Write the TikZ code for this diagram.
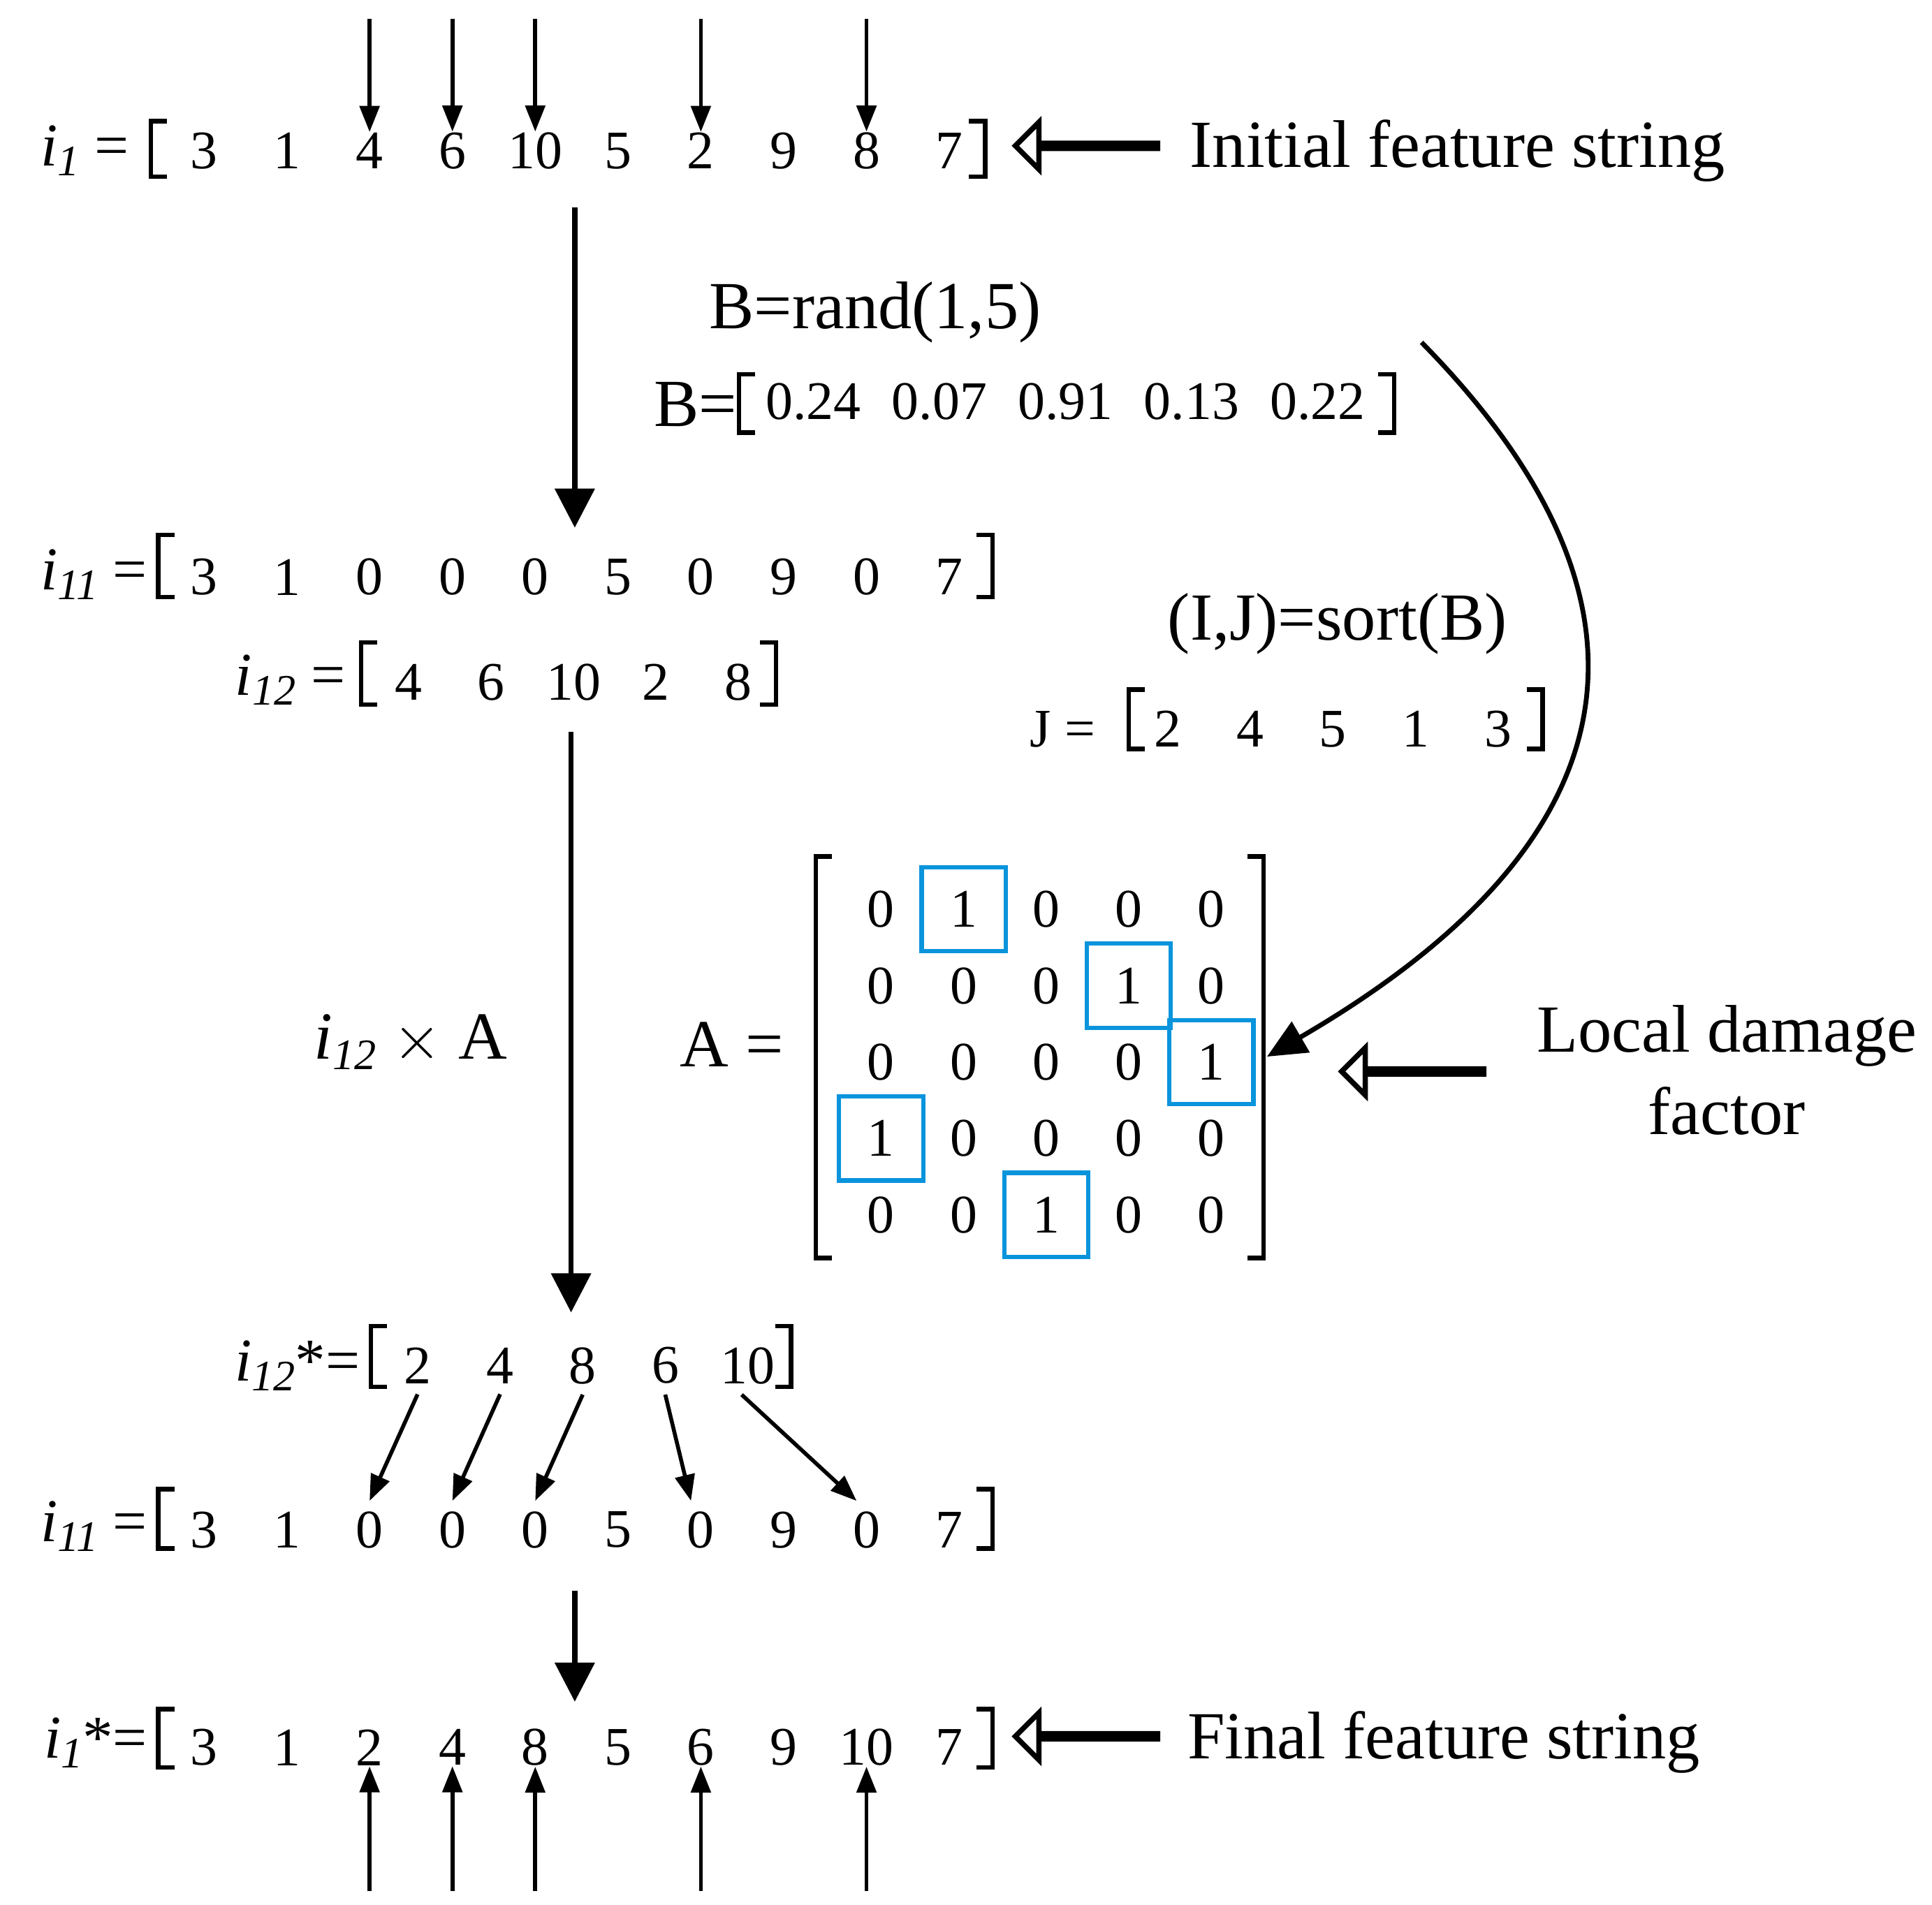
\documentclass[tikz,border=0pt]{standalone}
\usepackage{fontspec}
\setmainfont{Liberation Serif}
\usetikzlibrary{arrows.meta,shapes.arrows,calc}
\newcommand{\ivar}[1]{\textit{i}\raisebox{-0.35ex}{\fontsize{10}{12}\selectfont\textit{#1}}}
\begin{document}
\begin{tikzpicture}[x=0.01cm,y=-0.01cm,
  num/.style={font=\fontsize{12.5}{14}\selectfont,inner sep=0},
  lab/.style={font=\fontsize{14}{16}\selectfont,inner sep=0},
  big/.style={font=\fontsize{15.5}{19}\selectfont,inner sep=0,align=center},
  thin arr/.style={-{Triangle[length=6pt,width=4.5pt]},line width=0.9pt},
  fat arr/.style={-{Triangle[length=9pt,width=9pt]},line width=1.2pt},
  hollow/.style={draw,line width=1.2pt,single arrow,shape border rotate=180,minimum height=1.15cm,minimum width=0.36cm,single arrow head extend=0.17cm,single arrow tip angle=90,inner sep=0},
  br/.style={line width=1pt},
  bb/.style={draw=cyan!80!blue,line width=1pt,minimum size=0.68cm,inner sep=0}]
\useasboundingbox (0,0) rectangle (1563,1541);
\newcommand{\brk}[4]{% x1 x2 ytop ybot
  \draw[br] (#1+13,#3)--(#1,#3)--(#1,#4)--(#1+13,#4);
  \draw[br] (#2-13,#3)--(#2,#3)--(#2,#4)--(#2-13,#4);}
% row 1
\node[lab,anchor=east] (l1) at (105,122) {\ivar{1} =};
\brk{122}{797}{98}{143}
\foreach \v [count=\i] in {3,1,4,6,10,5,2,9,8,7}
  \node[num] (a\i) at (98+67*\i,122) {\v};
\foreach \i in {3,4,5,7,9}{
  \coordinate (t\i) at ($(a\i)+(0,-107)$);
  \draw[thin arr] (t\i) -- (a\i.north);}
\node[hollow] (h1) at (880,118) {};
\node[big,anchor=west] (t1) at (962,122) {Initial feature string};
% B
\coordinate (s1) at (465,168); \coordinate (e1) at (465,427);
\draw[fat arr] (s1)--(e1);
\node[big] (brand) at (708,253) {B=rand(1,5)};
\node[big,anchor=east] (beq) at (597,327) {B=};
\brk{598}{1128}{303}{350}
\foreach \v [count=\i] in {0.24,0.07,0.91,0.13,0.22}
  \node[num] (b\i) at (556+102*\i,325) {\v};
% i11
\node[lab,anchor=east] (l2) at (120,465) {\ivar{11} =};
\brk{128}{803}{433}{483}
\foreach \v [count=\i] in {3,1,0,0,0,5,0,9,0,7}
  \node[num] (c\i) at (98+67*\i,467) {\v};
% i12
\node[lab,anchor=east] (l3) at (280,550) {\ivar{12} =};
\brk{292}{628}{520}{570}
\foreach \v [count=\i] in {4,6,10,2,8}
  \node[num] (d\i) at (264+66.7*\i,552) {\v};
% sort
\node[big] (sort) at (1082,505) {(I,J)=sort(B)};
\node[num,anchor=east] (jeq) at (887,590) {J =};
\brk{913}{1248}{558}{606}
\foreach \v [count=\i] in {2,4,5,1,3}
  \node[num] (j\i) at (878+66.8*\i,590) {\v};
% curved arrow
\coordinate (cs) at (1150,277);
\coordinate (ce) at (1025,855);
\draw[-{Triangle[length=9pt,width=8pt]},line width=1.1pt] (cs) .. controls (1330,460) and (1360,660) .. (ce);
% main arrow
\coordinate (s2) at (462,592); \coordinate (e2) at (462,1062);
\draw[fat arr] (s2)--(e2);
\node[big] (ixa) at (332,843) {\ivar{12} $\times$ A};
\node[big] (aeq) at (592,845) {A =};
\brk{660}{1022}{693}{1018}
\foreach \r/\row in {1/{0,1,0,0,0},2/{0,0,0,1,0},3/{0,0,0,0,1},4/{1,0,0,0,0},5/{0,0,1,0,0}}
  \foreach \v [count=\c] in \row
    \node[num] (m\r\c) at (646+66.8*\c,674+61.8*\r) {\v};
\foreach \r/\c in {1/2,2/4,3/5,4/1,5/3}
  \node[bb] (bx\r\c) at (646+66.8*\c,674+61.8*\r) {};
\node[hollow] (h2) at (1144,867) {};
\node[big] (ldf) at (1397,866) {Local damage\\factor};
% i12*
\node[lab,anchor=east] (l4) at (292,1105) {\ivar{12}*=};
\brk{300}{640}{1073}{1122}
\foreach \v [count=\i] in {2,4,8,6,10}
  \node[num] (e\i) at (271+66.8*\i,1105) {\v};
% i11 again
\node[lab,anchor=east] (l5) at (120,1235) {\ivar{11} =};
\brk{128}{803}{1205}{1253}
\foreach \v [count=\i] in {3,1,0,0,0,5,0,9,0,7}
  \node[num] (f\i) at (98+67*\i,1238) {\v};
\draw[thin arr] ($(e1.south)+(0,8)$) -- ($(f3.north)+(0,-8)$);
\draw[thin arr] ($(e2.south)+(0,8)$) -- ($(f4.north)+(0,-8)$);
\draw[thin arr] ($(e3.south)+(0,8)$) -- ($(f5.north)+(0,-8)$);
\draw[thin arr] ($(e4.south)+(0,8)$) -- ($(f7.north)+(-8,-8)$);
\draw[thin arr] ($(e5.south)+(-5,8)$) -- ($(f9.north)+(-8,-8)$);
\coordinate (s3) at (465,1287); \coordinate (e3c) at (465,1377);
\draw[fat arr] (s3)--(e3c);
% final
\node[lab,anchor=east] (l6) at (120,1410) {\ivar{1}*=};
\brk{128}{803}{1383}{1430}
\foreach \v [count=\i] in {3,1,2,4,8,5,6,9,10,7}
  \node[num] (g\i) at (98+67*\i,1414) {\v};
\foreach \i in {3,4,5,7,9}{
  \coordinate (u\i) at ($(g\i)+(0,116)$);
  \draw[thin arr] (u\i) -- (g\i.south);}
\node[hollow] (h3) at (880,1405) {};
\node[big,anchor=west] (t3) at (960,1410) {Final feature string};
\end{tikzpicture}
\end{document}
